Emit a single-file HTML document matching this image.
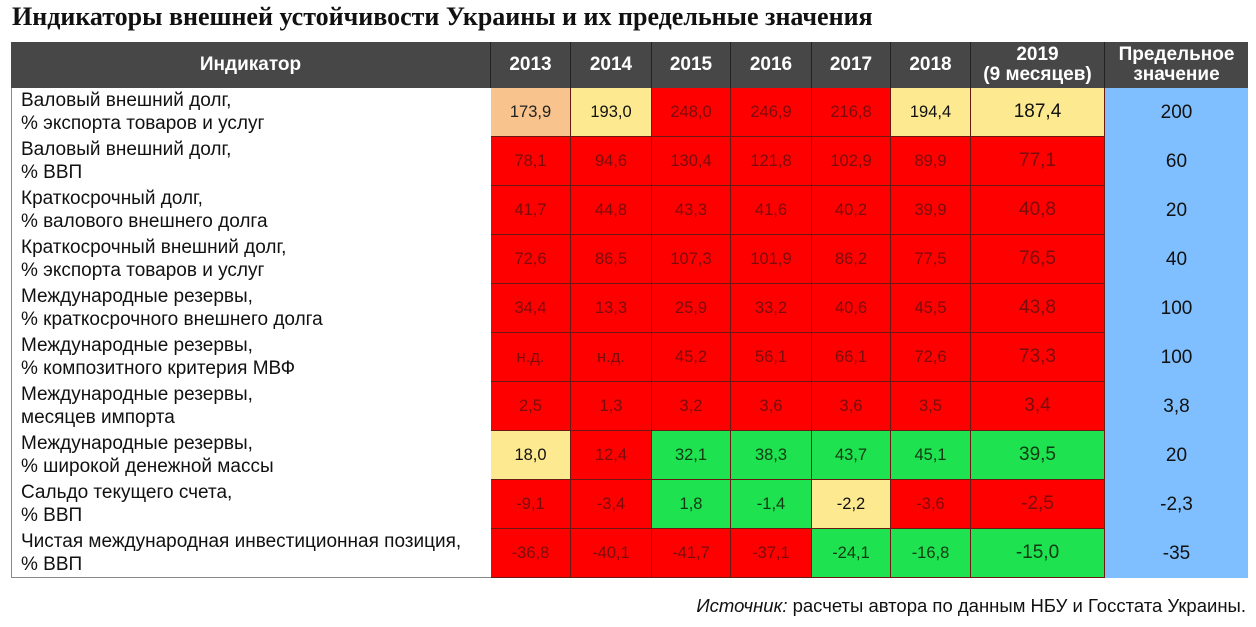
<!DOCTYPE html>
<html><head><meta charset="utf-8">
<style>
body{margin:0;width:1256px;height:627px;background:#fff;position:relative;overflow:hidden;font-family:"Liberation Sans","DejaVu Sans",sans-serif;}
#title{position:absolute;left:12px;top:2px;font-family:"Liberation Serif",serif;font-weight:bold;font-size:26px;color:#111;white-space:nowrap;}
#tbl{position:absolute;left:0;top:0;width:1256px;height:627px;}
.c{position:absolute;box-sizing:border-box;display:flex;align-items:center;justify-content:center;text-align:center;}
.h{background:#474747;color:#fff;font-weight:bold;font-size:19px;line-height:20px;border-right:1px solid #222;}
.lab{position:absolute;left:21px;font-size:19px;line-height:23px;color:#111;white-space:nowrap;}
.v{font-size:16.5px;border-right:1px solid #6a1a10;border-bottom:1px solid #6a1a10;}
#src{position:absolute;right:10px;top:595px;font-size:18.5px;color:#111;white-space:nowrap;}
</style></head><body>
<div id="title">Индикаторы внешней устойчивости Украины и их предельные значения</div>
<div id="tbl"></div>
<div id="src"><i>Источник:</i> расчеты автора по данным НБУ и Госстата Украины.</div>
<script>
const years=["2013","2014","2015","2016","2017","2018","2019<br>(9 месяцев)"];
const indicators=[["Валовый внешний долг,","% экспорта товаров и услуг"],["Валовый внешний долг,","% ВВП"],["Краткосрочный долг,","% валового внешнего долга"],["Краткосрочный внешний долг,","% экспорта товаров и услуг"],["Международные резервы,","% краткосрочного внешнего долга"],["Международные резервы,","% композитного критерия МВФ"],["Международные резервы,","месяцев импорта"],["Международные резервы,","% широкой денежной массы"],["Сальдо текущего счета,","% ВВП"],["Чистая международная инвестиционная позиция,","% ВВП"]];
const values=[["173,9","193,0","248,0","246,9","216,8","194,4","187,4"],["78,1","94,6","130,4","121,8","102,9","89,9","77,1"],["41,7","44,8","43,3","41,6","40,2","39,9","40,8"],["72,6","86,5","107,3","101,9","86,2","77,5","76,5"],["34,4","13,3","25,9","33,2","40,6","45,5","43,8"],["н.д.","н.д.","45,2","56,1","66,1","72,6","73,3"],["2,5","1,3","3,2","3,6","3,6","3,5","3,4"],["18,0","12,4","32,1","38,3","43,7","45,1","39,5"],["-9,1","-3,4","1,8","-1,4","-2,2","-3,6","-2,5"],["-36,8","-40,1","-41,7","-37,1","-24,1","-16,8","-15,0"]];
const status=["OYRRRYY","RRRRRRR","RRRRRRR","RRRRRRR","RRRRRRR","RRRRRRR","RRRRRRR","YRGGGGG","RRGGYRR","RRRRGGG"];
const limits=["200","60","20","40","100","100","3,8","20","-2,3","-35"];
const colX=[11,491,571,652,731,812,891,971,1105,1248];
const top0=42,headH=46,rowH=49;
const fill={R:"#ff0000",Y:"#fde98f",O:"#f8c38c",G:"#1ee250"};
const txt={R:"#7a0c0c",Y:"#111",O:"#222",G:"#123a12"};
const T=document.getElementById('tbl');
function mk(cls,x,y,w,h,html){const d=document.createElement('div');d.className=cls;d.style.left=x+'px';d.style.top=y+'px';d.style.width=w+'px';d.style.height=h+'px';d.innerHTML=html;T.appendChild(d);return d;}
const fr=mk('c',colX[0],top0,colX[9]-colX[0],headH+rowH*10,'');
fr.style.border='1px solid #888';


let h=mk('c h',colX[0],top0,colX[1]-colX[0],headH,'Индикатор');


years.forEach((y,i)=>{const e=mk('c h',colX[i+1],top0,colX[i+2]-colX[i+1],headH,y);

});
h=mk('c h',colX[8],top0,colX[9]-colX[8],headH,'Предельное<br>значение');
h.style.borderRight='none';


indicators.forEach((lab,r)=>{
 const y=top0+headH+r*rowH;
 const l=document.createElement('div');l.className='lab';l.style.top=(y+1)+'px';l.innerHTML=lab[0]+'<br>'+lab[1];T.appendChild(l);
 
 
 values[r].forEach((v,i)=>{const s=status[r][i];
  const e=mk('c v',colX[i+1],y,colX[i+2]-colX[i+1],rowH,v);
  e.style.background=fill[s];e.style.color=txt[s];
  if(i==6)e.style.fontSize='19px';
  
  });
 const e=mk('c',colX[8],y,colX[9]-colX[8],rowH,limits[r]);
 e.style.background='#7fbfff';e.style.fontSize='19px';e.style.color='#111';
 
 
});
</script>
</body></html>
